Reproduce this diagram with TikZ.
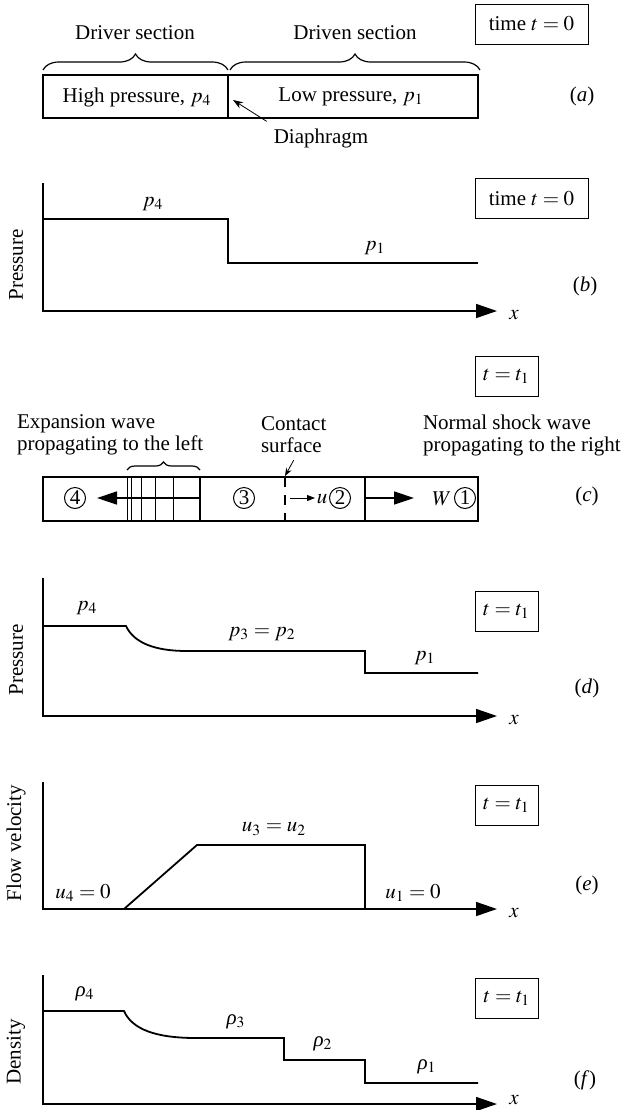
\documentclass[tikz,border=0pt]{standalone}
\usepackage{mathptmx}
\usepackage{fontspec}
\setmainfont{Liberation Serif}
\usetikzlibrary{arrows.meta,decorations.pathreplacing,positioning}
\newcommand{\rhosub}[1]{\textit{ρ}$_{#1}$}

\begin{document}
\begin{tikzpicture}[x=0.5pt,y=-0.5pt,font=\fontsize{10.5}{11}\selectfont]
    \tikzset{axis/.style={-{Triangle[length=10.5pt, width=7pt]}, line width=0.8pt},
        curve/.style={line width=0.9pt},
        timebox/.style={draw, line width=0.5pt, minimum height=20pt, inner sep=2pt},
        region/.style={circle, draw, line width=0.5pt, inner sep=0pt, minimum size=10.5pt},
        tube/.style={draw, line width=0.8pt},
        bigarrow/.style={-{Triangle[length=10pt, width=6.5pt]}, line width=0.8pt},
        cbrace/.style={decorate, decoration={brace, amplitude=#1}, line width=0.6pt}}
    \useasboundingbox (0,0) rectangle (621,1110);

    % (a) shock tube at t = 0
    \node[timebox, minimum width=56.5pt] (boxa) at (531.5,24) {time $t = 0$};
    \draw[tube] (43,75) rectangle (478,118);
    \draw[tube] (228,75) -- (228,118);
    \draw[cbrace=8pt] (43,70) -- (228,70);
    \draw[cbrace=8pt] (230,70) -- (480,70);
    \node (driver) at (135,33) {Driver section};
    \node (driven) at (355,33) {Driven section};
    \node (high) at (137,97) {High pressure, $p_4$};
    \node (low) at (351,97) {Low pressure, $p_1$};
    \node (la) at (582,96) {(\textit{a})};
    \node (diaph) at (321,138) {Diaphragm};
    \coordinate (dtip) at (233,100);
    \draw[-{Stealth[length=5pt, width=3.5pt]}, line width=0.4pt] (diaph.north west) -- (dtip);

    % (b) pressure at t = 0
    \node[timebox, minimum width=56.5pt] (boxb) at (531.5,198.5) {time $t = 0$};
    \draw[axis] (43,183) -- (43,311) -- (497,311);
    \draw[curve] (43,219) -- (228,219) -- (228,263) -- (478,263);
    \node (p4b) at (153,204) {$p_4$};
    \node (p1b) at (375,248) {$p_1$};
    \node (lb) at (585,286) {(\textit{b})};
    \node (xb) at (514,315) {$x$};
    \node[rotate=90] (yb) at (16,265) {Pressure};

    % (c) waves in the tube at t = t1
    \node[timebox, minimum width=31.5pt] (boxc) at (506.5,376.5) {$t = t_1$};
    \node[align=left, anchor=west] (expan) at (10,435) {Expansion wave\\propagating to the left};
    \node[align=left, anchor=west] (contact) at (254,435) {Contact\\surface};
    \node[align=left, anchor=west] (shock) at (416,435) {Normal shock wave\\propagating to the right};
    \draw[tube] (43,477) rectangle (478,521);
    \foreach \xf in {127,131,141,155,173}
        \draw[line width=0.4pt] (\xf,477) -- (\xf,521);
    \draw[tube] (200,477) -- (200,521);
    \draw[tube] (365,477) -- (365,521);
    \draw[line width=0.9pt, dash pattern=on 5pt off 4pt] (285,477) -- (285,521);
    \draw[cbrace=4pt] (127,470) -- (200,470);
    \coordinate (ctop) at (285,476);
    \draw[-{Stealth[length=4pt, width=3pt]}, line width=0.4pt] (contact.south) -- (ctop);
    \node[region] (r4) at (75,498) {4};
    \node[region] (r3) at (244,498) {3};
    \node[region] (r2) at (340,498) {2};
    \node[region] (r1) at (465,498) {1};
    \coordinate (wtail) at (200,498);
    \coordinate (wtip) at (97,498);
    \draw[bigarrow] (wtail) -- (wtip);
    \coordinate (utail) at (290,498);
    \coordinate (utip) at (315,498);
    \draw[-{Triangle[length=4pt, width=3pt]}, line width=0.5pt] (utail) -- (utip);
    \node[inner sep=0pt] (u) at (322,499) {$u$};
    \coordinate (stail) at (365,498);
    \coordinate (stip) at (414,498);
    \draw[bigarrow] (stail) -- (stip);
    \node[inner sep=0pt] (w) at (442,499) {$W$};
    \node (lc) at (587,496) {(\textit{c})};

    % (d) pressure at t = t1
    \node[timebox, minimum width=31.5pt] (boxd) at (506.5,611) {$t = t_1$};
    \draw[axis] (43,578) -- (43,716) -- (497,716);
    \draw[curve] (43,626) -- (126,626) .. controls (134,643) and (155,651) .. (187,651)
        -- (365,651) -- (365,673) -- (478,673);
    \node (p4d) at (87,608) {$p_4$};
    \node (p32) at (262,634) {$p_3 = p_2$};
    \node (p1d) at (425,658) {$p_1$};
    \node (ld) at (587,688) {(\textit{d})};
    \node (xd) at (514,720) {$x$};
    \node[rotate=90] (yd) at (16,660) {Pressure};

    % (e) flow velocity at t = t1
    \node[timebox, minimum width=31.5pt] (boxe) at (506.5,805.5) {$t = t_1$};
    \draw[axis] (43,782) -- (43,909) -- (497,909);
    \draw[curve] (124,909) -- (197,845) -- (365,845) -- (365,909);
    \node (u32) at (274,829) {$u_3 = u_2$};
    \node (u4) at (83,893) {$u_4 = 0$};
    \node (u1) at (413,893) {$u_1 = 0$};
    \node (le) at (587,885) {(\textit{e})};
    \node (xe) at (514,913) {$x$};
    \node[rotate=90] (ye) at (16,843) {Flow velocity};

    % (f) density at t = t1
    \node[timebox, minimum width=31.5pt] (boxf) at (507,998) {$t = t_1$};
    \draw[axis] (43,975) -- (43,1104) -- (497,1104);
    \draw[curve] (43,1011) -- (124,1011) .. controls (132,1029) and (155,1038) .. (196,1038)
        -- (284,1038) -- (284,1060) -- (365,1060) -- (365,1083) -- (478,1083);
    \node[inner sep=1pt] (rho4) at (85,994) {\rhosub{4}};
    \node[inner sep=1pt] (rho3) at (236,1022) {\rhosub{3}};
    \node[inner sep=1pt] (rho2) at (323,1044) {\rhosub{2}};
    \node[inner sep=1pt] (rho1) at (427,1067) {\rhosub{1}};
    \node (lf) at (585,1080) {(\textit{f})};
    \node[inner sep=1pt] (xf) at (514,1100) {$x$};
    \node[rotate=90] (yf) at (16,1052) {Density};
\end{tikzpicture}
\end{document}
